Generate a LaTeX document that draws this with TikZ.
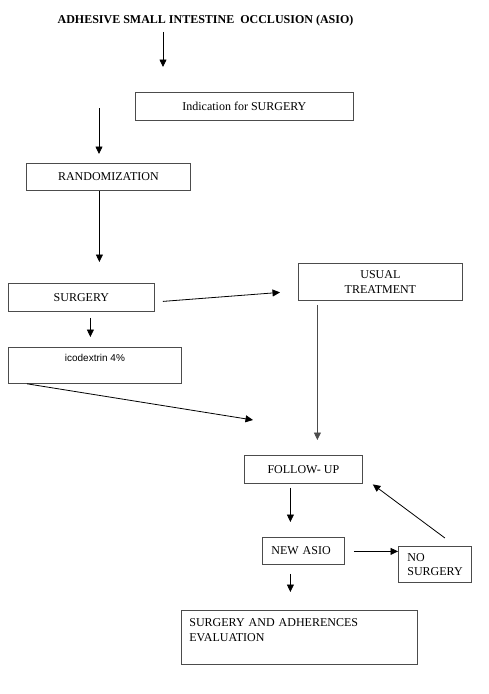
\documentclass[tikz,border=0pt]{standalone}
\usepackage{fontspec}
\setmainfont{Liberation Serif}
\newfontfamily\arialfont{Liberation Sans}
\usetikzlibrary{arrows.meta}
\tikzset{
  box/.style={draw=black!70,line width=0.8pt,anchor=north west,inner sep=0pt,
    font=\fontsize{12}{14.5}\selectfont},
  arr/.style={draw=black,line width=0.8pt,-{Triangle[length=7.5pt,width=7pt]}}
}
\begin{document}
\begin{tikzpicture}[x=1pt,y=-1pt]
 \useasboundingbox (0,0) rectangle (489,694);
 \node[font=\fontsize{12}{14.5}\selectfont\bfseries,anchor=base,inner sep=0pt] (title) at (205.5,23) {ADHESIVE SMALL INTESTINE\ \ OCCLUSION (ASIO)};
 \node[box,minimum width=218pt,minimum height=28pt] (ind) at (135,92) {Indication for SURGERY};
 \node[box,minimum width=164pt,minimum height=27pt] (rand) at (26,163) {RANDOMIZATION};
 \node[box,minimum width=146pt,minimum height=28pt] (surg) at (8,283) {SURGERY};
 \node[box,minimum width=164pt,minimum height=37pt,align=center] (usual) at (298,263) {USUAL\\TREATMENT};
 \node[box,minimum width=173pt,minimum height=36pt,align=center,font=\arialfont\fontsize{10}{12}\selectfont] (icod) at (8,347) {icodextrin 4\%\\[4pt]\mbox{}};
 \node[box,minimum width=118pt,minimum height=28pt] (follow) at (244,455) {FOLLOW- UP};
 \node[box,minimum height=27pt,inner xsep=9pt,text width=64pt,align=left] (newasio) at (262,537) {NEW ASIO};
 \node[box,minimum height=36pt,inner xsep=9pt,text width=55pt,align=left] (nosurg) at (398,546) {NO\\SURGERY};
 \node[box,minimum height=54pt,inner xsep=8pt,text width=220pt,align=left] (evalbox) at (181,610) {SURGERY AND ADHERENCES\\EVALUATION\\\mbox{}};
 \draw[arr,shorten <=6pt,shorten >=25pt] ([xshift=-42.5pt]title.south) -- ([xshift=-42.5pt]title.south |- ind.north);
 \draw[arr,shorten >=9pt] ([xshift=-36pt,yshift=-2pt]ind.west) -- ([xshift=-36pt]ind.west |- rand.north);
 \draw[arr,shorten >=21pt] ([xshift=-9pt]rand.south) -- ([xshift=-9pt]rand.south |- surg.north);
 \draw[arr] ([xshift=8pt,yshift=-4pt]surg.east) -- ([xshift=-18pt,yshift=-10.5pt]usual.west);
 \draw[arr,shorten <=6pt,shorten >=10pt] ([xshift=9pt]surg.south) -- ([xshift=9pt]surg.south |- icod.north);
 \draw[arr] ([xshift=19pt]icod.south west) -- ([xshift=9pt,yshift=35pt]follow.north west);
 \draw[arr,draw=black!70,shorten <=4pt,shorten >=15pt] ([xshift=-63pt]usual.south) -- ([xshift=-63pt]usual.south |- follow.north);
 \draw[arr,shorten <=4pt,shorten >=15pt] ([xshift=-13pt]follow.south) -- ([xshift=-13pt]follow.south |- newasio.north);
 \draw[arr,shorten <=9pt] ([yshift=-0.5pt]newasio.east) -- ([yshift=-0.5pt]newasio.east -| nosurg.west);
 \draw[arr] ([xshift=10pt,yshift=8pt]nosurg.north) -- ([xshift=10pt,yshift=-15pt]follow.east);
 \draw[arr,shorten <=9pt,shorten >=18pt] ([xshift=-13pt]newasio.south) -- ([xshift=-13pt]newasio.south |- evalbox.north);
\end{tikzpicture}
\end{document}
